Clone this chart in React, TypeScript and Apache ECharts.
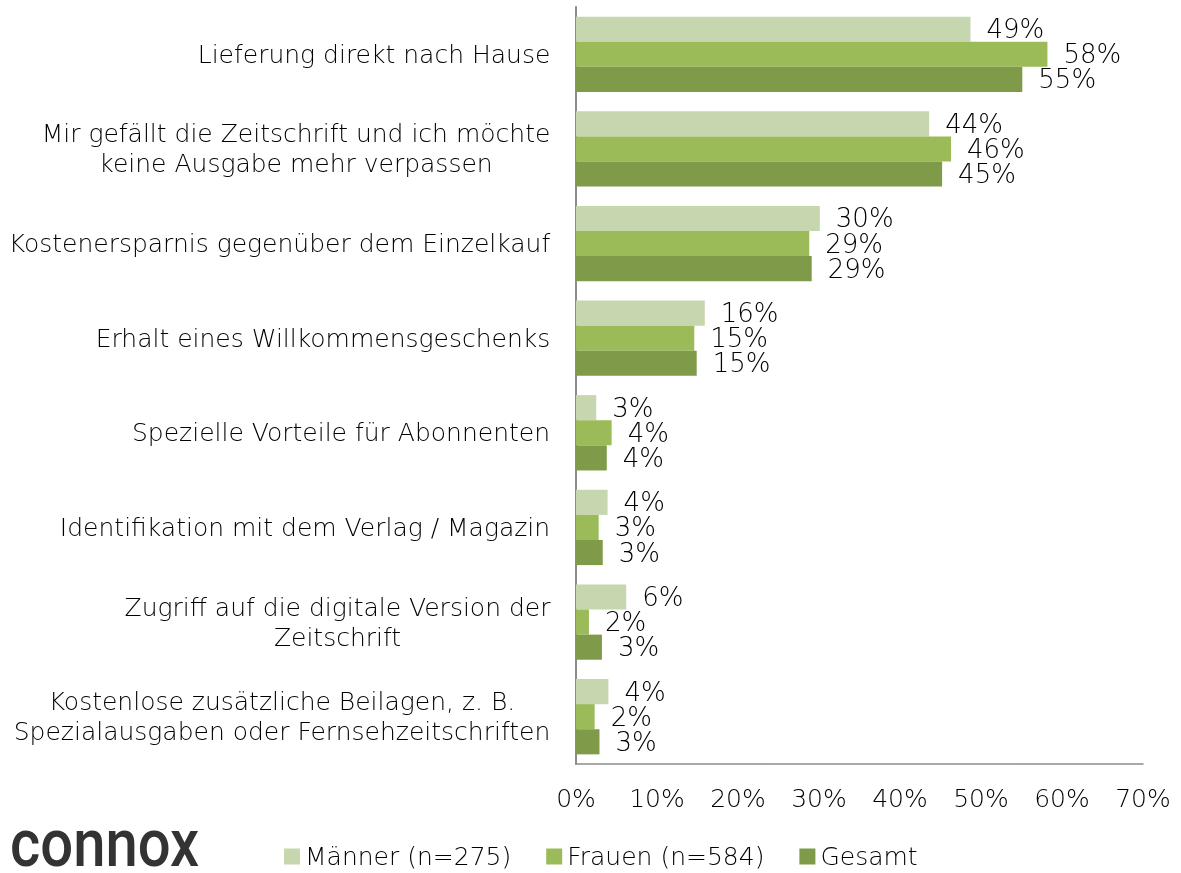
import React, { useEffect, useRef } from "react";
import * as echarts from "echarts";

const categories = [
  "Lieferung direkt nach Hause",
  "Mir gefällt die Zeitschrift und ich möchte\nkeine Ausgabe mehr verpassen",
  "Kostenersparnis gegenüber dem Einzelkauf",
  "Erhalt eines Willkommensgeschenks",
  "Spezielle Vorteile für Abonnenten",
  "Identifikation mit dem Verlag / Magazin",
  "Zugriff auf die digitale Version der\nZeitschrift",
  "Kostenlose zusätzliche Beilagen, z. B.\nSpezialausgaben oder Fernsehzeitschriften",
];
const seriesNames = ["Männer (n=275)", "Frauen (n=584)", "Gesamt"];
const maenner = [48.7, 43.6, 30.1, 15.9, 2.5, 3.9, 6.2, 4.0];
const frauen = [58.2, 46.3, 28.8, 14.6, 4.4, 2.8, 1.6, 2.3];
const gesamt = [55.1, 45.2, 29.1, 14.9, 3.8, 3.3, 3.2, 2.9];
const colors = ["#C6D6AE", "#9BBB59", "#7F9A48"];
const xMax = 70;
const xInterval = 10;

const FONT = "'DejaVu Sans', sans-serif";
const FW = 200;
const FS = 25;
const TEXT = "#000000";

export default function App() {
  const ref = useRef<HTMLDivElement>(null);
  useEffect(() => {
    if (!ref.current) return;
    const chart = echarts.init(ref.current, undefined, { renderer: "svg" });
    const canvas = document.createElement("canvas");
    const ctx = canvas.getContext("2d")!;
    ctx.font = `${FW} ${FS}px 'DejaVu Sans'`;
    const rich: Record<string, any> = {};
    categories.forEach((c, i) => {
      const lines = c.split("\n");
      const w = Math.max(...lines.map((l) => ctx.measureText(l).width));
      rich["c" + i] = {
        width: Math.ceil(w) + 1,
        align: "center",
        fontSize: FS,
        fontFamily: FONT,
        fontWeight: FW,
        color: TEXT,
        lineHeight: 30,
      };
    });
    const data = [maenner, frauen, gesamt];
    chart.setOption({
      animation: false,
      textStyle: { fontFamily: FONT, fontWeight: FW, color: TEXT },
      grid: { left: 576, right: 38, top: 7, bottom: 109, containLabel: false },
      legend: {
        left: 279,
        top: 839,
        itemWidth: 16,
        itemHeight: 16,
        itemGap: 35,
        icon: "rect",
        textStyle: { fontSize: 25, fontFamily: FONT, fontWeight: FW, color: TEXT },
        data: seriesNames,
      },
      xAxis: {
        type: "value",
        min: 0,
        max: xMax,
        interval: xInterval,
        axisLine: { show: true, lineStyle: { color: "#8c8c8c", width: 1.5 } },
        axisTick: { show: false },
        splitLine: { show: false },
        axisLabel: {
          margin: 22,
          fontSize: 25,
          fontFamily: FONT,
          fontWeight: FW,
          color: TEXT,
          formatter: (v: number) => v + "%",
        },
      },
      yAxis: {
        type: "category",
        inverse: true,
        data: categories,
        axisLine: { show: true, lineStyle: { color: "#8c8c8c", width: 2 } },
        axisTick: { show: false },
        axisLabel: {
          margin: 25,
          fontSize: FS,
          fontFamily: FONT,
          fontWeight: FW,
          color: TEXT,
          lineHeight: 30,
          formatter: (v: string, i: number) =>
            v
              .split("\n")
              .map((l) => `{c${i}|${l}}`)
              .join("\n"),
          rich,
        },
      },
      series: seriesNames.map((n, k) => ({
        name: n,
        type: "bar",
        data: data[k],
        barGap: "0%",
        barCategoryGap: "20.4%",
        itemStyle: { color: colors[k] },
        label: {
          show: true,
          position: "right",
          distance: 16,
          fontSize: 26,
          lineHeight: 24,
          fontFamily: FONT,
          fontWeight: FW,
          color: TEXT,
          formatter: (p: any) => Math.round(p.value) + "%",
        },
      })),
      graphic: [
        {
          type: "text",
          x: 10,
          y: 843,
          scaleY: 1.14,
          style: {
            text: "connox",
            fontSize: 58,
            fontFamily: "Roboto, 'Liberation Sans', sans-serif",
            fontWeight: 500,
            fill: "#333333",
            verticalAlign: "middle",
            align: "left",
          },
        },
      ],
    });
    return () => chart.dispose();
  }, []);
  return (
    <div
      ref={ref}
      style={{ position: "fixed", left: 0, top: 0, width: 1181, height: 873 }}
    />
  );
}
